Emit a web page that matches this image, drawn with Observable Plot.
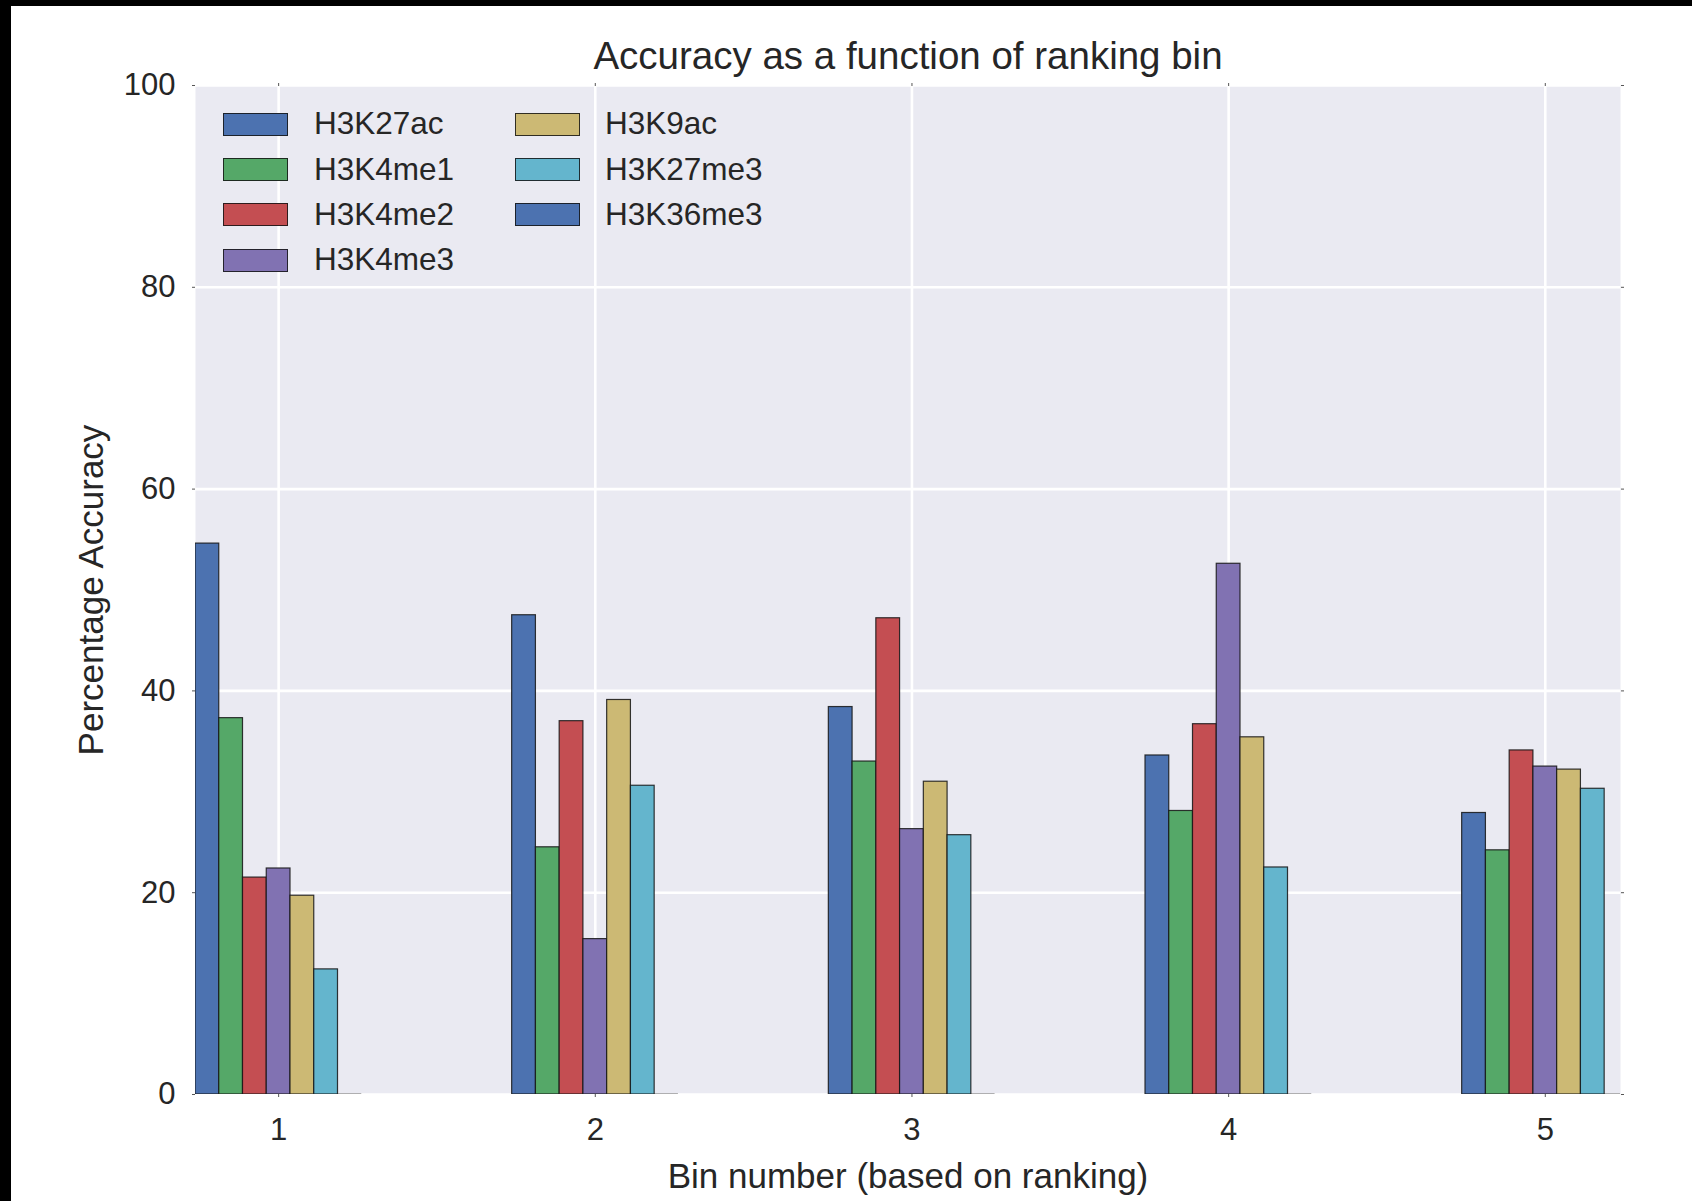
<!DOCTYPE html>
<html>
<head>
<meta charset="utf-8">
<script src="https://cdn.jsdelivr.net/npm/d3@7"></script>
<script src="https://cdn.jsdelivr.net/npm/@observablehq/plot@0.6"></script>
<style>
  html, body { margin: 0; padding: 0; background: #ffffff; }
  #wrap { position: relative; width: 1692px; height: 1201px; overflow: hidden;
          font-family: "Liberation Sans", Arial, sans-serif; color: #262626; }
  #wrap svg { position: absolute; left: 0; top: 0; }
  .band-top { position: absolute; left: 0; top: 0; width: 1692px; height: 6px; background: #000; }
  .band-left { position: absolute; left: 0; top: 0; width: 11px; height: 1201px; background: #000; }
  .legend-col { position: absolute; top: 101.5px; }
  .legend-row { height: 45.3px; display: flex; align-items: center; white-space: nowrap; }
  .legend-sw { width: 63px; height: 21px; border: 1px solid rgba(20,20,20,0.85); flex: none; }
  .legend-tx { font-size: 31.5px; line-height: 1; color: #262626; }
</style>
</head>
<body>
<div id="wrap"></div>
<script>
// ---------- data ----------
const bins = [1, 2, 3, 4, 5];
const series = ["H3K27ac", "H3K4me1", "H3K4me2", "H3K4me3", "H3K9ac", "H3K27me3", "H3K36me3"];
const H3K27ac  = [54.6, 47.5, 38.4, 33.6, 27.9];
const H3K4me1  = [37.3, 24.5, 33.0, 28.1, 24.2];
const H3K4me2  = [21.5, 37.0, 47.2, 36.7, 34.1];
const H3K4me3  = [22.4, 15.4, 26.3, 52.6, 32.5];
const H3K9ac   = [19.7, 39.1, 31.0, 35.4, 32.2];
const H3K27me3 = [12.4, 30.6, 25.7, 22.5, 30.3];
const H3K36me3 = [0, 0, 0, 0, 0];
const seriesValues = [H3K27ac, H3K4me1, H3K4me2, H3K4me3, H3K9ac, H3K27me3, H3K36me3];
const colors = ["#4C72B0", "#55A868", "#C44E52", "#8172B2", "#CCB974", "#64B5CD", "#4C72B0"];
const yTicks = [0, 20, 40, 60, 80, 100];
const titleText = "Accuracy as a function of ranking bin";
const xLabelText = "Bin number (based on ranking)";
const yLabelText = "Percentage Accuracy";

// ---------- layout ----------
const W = 1692, H = 1201;
const ML = 195, MR = 72, MT = 85, MB = 107;
const barW = 0.075;

const data = bins.flatMap((b, bi) => series.map((s, si) => ({
  bin: b, series: s, value: seriesValues[si][bi],
  x1: bi + si * barW, x2: bi + (si + 1) * barW
})));
const tickPos = bins.map((b, bi) => bi + series.length * barW / 2);
const tickLabel = d => bins[tickPos.findIndex(t => Math.abs(t - d) < 1e-9)];

const textColor = "#262626";

const chart = Plot.plot({
  width: W, height: H,
  marginLeft: ML, marginRight: MR, marginTop: MT, marginBottom: MB,
  style: { fontFamily: "'Liberation Sans', Arial, sans-serif", color: textColor, background: "white" },
  x: { type: "linear", domain: [0, bins.length - 0.5], label: null },
  y: { type: "linear", domain: [0, 100], label: null },
  color: { type: "ordinal", domain: series, range: colors },
  marks: [
    Plot.frame({ fill: "#EAEAF2", stroke: "none" }),
    Plot.gridY(yTicks, { stroke: "white", strokeOpacity: 1, strokeWidth: 2.6 }),
    Plot.gridX(tickPos, { stroke: "white", strokeOpacity: 1, strokeWidth: 2.6 }),
    Plot.rect(data, { x1: "x1", x2: "x2", y1: 0, y2: "value", fill: "series",
                      stroke: "#141414", strokeWidth: 1.2, strokeOpacity: 0.85, clip: true }),
    Plot.ruleY(data.filter(d => d.value === 0), { x1: "x1", x2: "x2", y: "value",
                      stroke: "#000", strokeWidth: 1.6, clip: true }),
    Plot.axisX(tickPos, { anchor: "bottom", tickSize: 3, tickPadding: 20, fontSize: 31,
                          tickFormat: tickLabel, label: null, stroke: "#555", fill: textColor }),
    Plot.axisX(tickPos, { anchor: "top", tickSize: 3, tickFormat: () => "", label: null, stroke: "#555" }),
    Plot.axisY(yTicks, { anchor: "left", tickSize: 3, tickPadding: 17, fontSize: 31,
                         label: null, stroke: "#555", fill: textColor }),
    Plot.axisY(yTicks, { anchor: "right", tickSize: 3, tickFormat: () => "", label: null, stroke: "#555" }),
    Plot.text([titleText], { text: d => d, frameAnchor: "top", dy: -17, lineAnchor: "bottom",
                             fontSize: 38.5, fill: textColor }),
    Plot.text([xLabelText], { text: d => d, frameAnchor: "bottom", dy: 93, lineAnchor: "bottom",
                              fontSize: 35, fill: textColor }),
    Plot.text([yLabelText], { text: d => d, frameAnchor: "left", dx: -93, rotate: -90,
                              lineAnchor: "bottom", textAnchor: "middle", fontSize: 35, fill: textColor })
  ]
});

const wrap = document.getElementById("wrap");
wrap.appendChild(chart);

// ---------- legend (two columns, filled column-wise) ----------
const colDefs = [
  { sw: 223, tx: 314, items: series.slice(0, 4), offset: 0 },
  { sw: 515, tx: 605, items: series.slice(4), offset: 4 }
];
colDefs.forEach(c => {
  const col = document.createElement("div");
  col.className = "legend-col";
  col.style.left = c.sw + "px";
  c.items.forEach((name, k) => {
    const row = document.createElement("div");
    row.className = "legend-row";
    const sw = document.createElement("div");
    sw.className = "legend-sw";
    sw.style.background = colors[c.offset + k];
    const tx = document.createElement("div");
    tx.className = "legend-tx";
    tx.style.marginLeft = (c.tx - c.sw - 65) + "px";
    tx.textContent = name;
    row.appendChild(sw);
    row.appendChild(tx);
    col.appendChild(row);
  });
  wrap.appendChild(col);
});

const bt = document.createElement("div"); bt.className = "band-top"; wrap.appendChild(bt);
const bl = document.createElement("div"); bl.className = "band-left"; wrap.appendChild(bl);
</script>
</body>
</html>
